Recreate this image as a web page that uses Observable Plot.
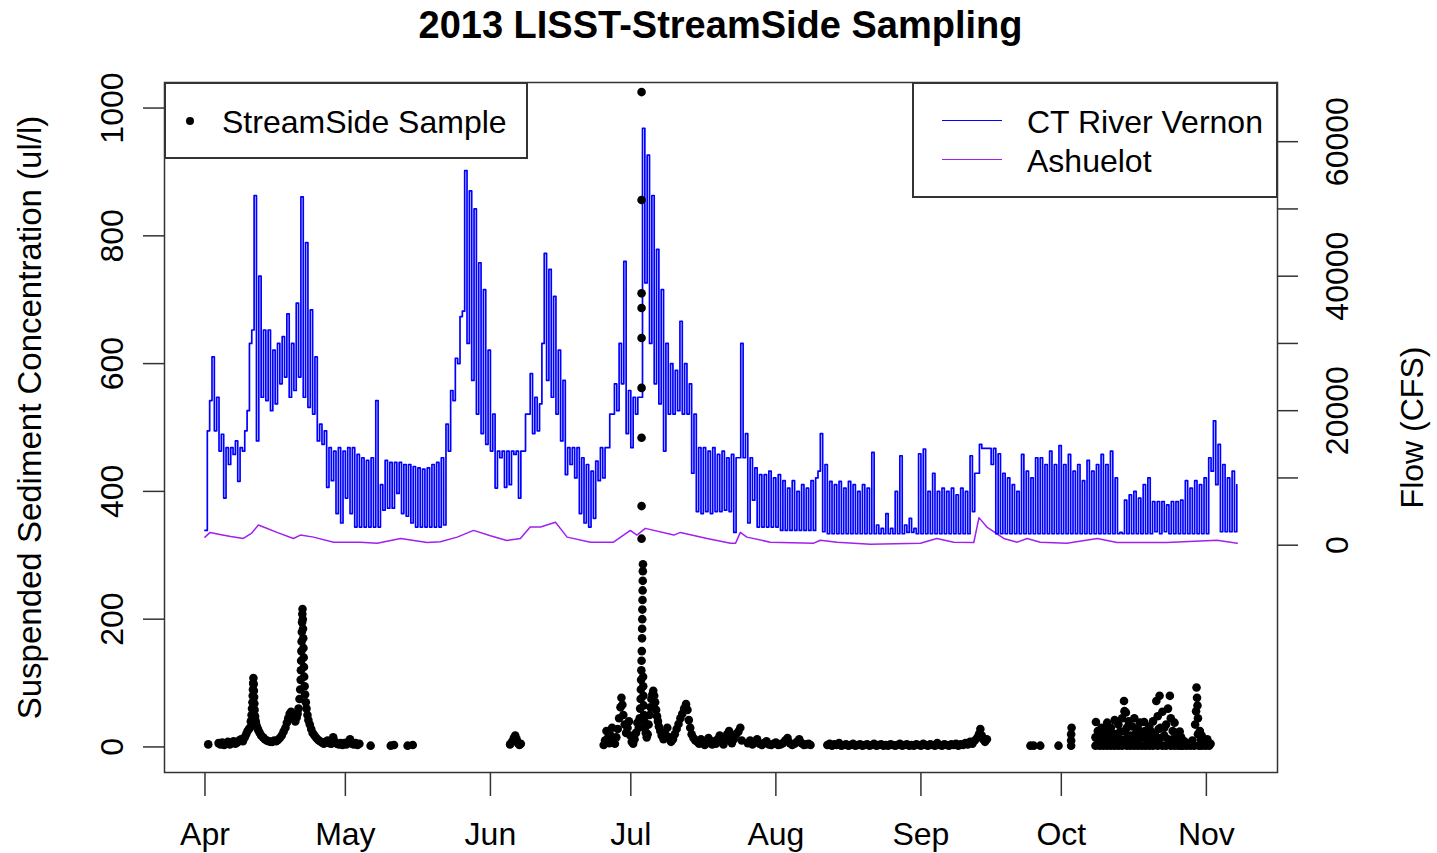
<!DOCTYPE html>
<html><head><meta charset="utf-8">
<script src="https://cdn.jsdelivr.net/npm/d3@7"></script>
<script src="https://cdn.jsdelivr.net/npm/@observablehq/plot@0.6"></script>
<style>
html,body{margin:0;padding:0;background:#fff;overflow:hidden;}
body{font-family:"Liberation Sans",Arial,Helvetica,sans-serif;}
#wrap{position:relative;width:1437px;height:853px;}
#title{position:absolute;left:0;top:0;width:1441px;height:50px;text-align:center;font-weight:bold;font-size:38px;line-height:50px;color:#000;}
#chart{position:absolute;left:0;top:50px;width:1437px;height:803px;}
#chart svg{position:absolute;left:0;top:0;}
.lbox{position:absolute;background:#fff;border:2px solid #333;box-sizing:border-box;}
.ltxt{position:absolute;font-size:32px;line-height:32px;color:#000;white-space:nowrap;}
.ldot{position:absolute;width:8px;height:8px;border-radius:50%;background:#000;}
.lline{position:absolute;height:0;border-top:1.5px solid;}
</style></head>
<body>
<div id="wrap">
  <div id="title">2013 LISST-StreamSide Sampling</div>
  <div id="chart"></div>
  <div class="lbox" style="left:164px;top:82px;width:364px;height:77px;"></div>
  <div class="ldot" style="left:186px;top:117px;"></div>
  <div class="ltxt" style="left:222px;top:106px;">StreamSide Sample</div>
  <div class="lbox" style="left:912px;top:82px;width:366px;height:116px;"></div>
  <div class="lline" style="left:942px;top:120px;width:60px;border-color:#0000ff;"></div>
  <div class="ltxt" style="left:1027px;top:106px;">CT River Vernon</div>
  <div class="lline" style="left:942px;top:159px;width:60px;border-color:#a020f0;"></div>
  <div class="ltxt" style="left:1027px;top:145px;">Ashuelot</div>
</div>
<script>
// ---------- data (day offsets from 2013-04-01) ----------
const monthStarts = ["2013-04-01","2013-05-01","2013-06-01","2013-07-01","2013-08-01","2013-09-01","2013-10-01","2013-11-01"];
const monthLabels = ["Apr","May","Jun","Jul","Aug","Sep","Oct","Nov"];
const sedTicks = [0,200,400,600,800,1000];
const flowTicks = [0,10000,20000,30000,40000,50000,60000];
const flowLabelTicks = [0,20000,40000,60000];

// CT River at Vernon: daily high / low flow (cfs), day 0 = Apr 1
const ctHi = [
17000,28000,22000,16500,14500,14500,15500,14500,17000,30000,
52000,40000,32000,32000,29000,30000,31000,34400,30000,36000,
51800,45000,35000,28000,18000,17000,14500,14000,14500,14000,
14500,14500,13500,13000,12600,13000,21500,9000,12600,12300,
12300,12300,12000,12000,11700,11500,11300,11500,12000,12300,
13000,18000,23000,27800,34000,55700,52700,50000,42000,38000,
29000,19500,14000,14000,14000,14000,14000,14000,19500,25500,
22000,21000,43400,41000,37000,29000,24500,14500,14500,14500,
13000,12000,11000,12500,14500,14500,19500,24000,30000,42200,
23000,22000,22000,62000,58000,52000,44000,38000,30000,27000,
26000,33300,27000,24000,19500,14500,14500,14000,14500,13500,
14000,13000,13500,13000,30000,16600,13000,11500,10500,10500,
11000,10000,10500,9600,8500,9600,8000,9000,8500,9600,
10000,16600,12000,9500,9000,9500,8500,9500,9000,8000,
9000,8500,13800,3000,2500,4700,2500,8000,13300,3000,
4000,2500,13600,14300,8000,10700,8000,8500,8000,8500,
7500,8500,8000,13300,10700,15000,14400,14400,14400,13600,
10700,10000,9000,8000,13500,11000,10000,13000,13000,12000,
14000,12000,14800,12000,13500,11000,12000,9600,12600,11000,
12000,13500,12000,14000,10000,1900,6700,7500,8000,7000,
9000,10000,6500,6500,6500,6000,6500,6500,6700,9600,
8500,9600,9000,10000,13000,18500,15000,12000,10000,11000,
9000];
const ctLo = [
2200,21500,17000,14000,7000,12000,13500,9500,14000,20000,
32000,15500,22000,21500,20000,21000,24000,25000,22000,23000,
25000,22000,20500,19500,15500,15000,8600,9600,4700,3300,
7000,4700,2700,2700,2700,2700,2700,2700,5200,5500,
5500,7700,4700,4300,3300,2700,2700,2700,2700,2700,
2700,3000,14000,21500,27000,34800,30000,24500,19500,16600,
15000,14000,8500,13000,8600,9000,13500,7000,14000,19500,
16600,17000,30000,24500,22000,19500,15500,10500,12000,10000,
4700,3300,2700,4000,9600,10000,14500,19500,20000,24000,
16600,14500,19500,22000,39000,30000,24000,21000,14000,19500,
19500,20000,19500,19500,10700,5000,4700,5000,4700,5000,
5000,5200,5000,1900,13000,13000,3300,6700,2700,2700,
2700,2700,2700,2200,2200,2200,2200,2200,2200,2200,
2200,11000,2000,1700,1700,1700,1700,1700,1700,1700,
1700,1700,1700,1700,1700,1700,1700,1700,1700,1700,
1900,1900,1700,1700,1700,1700,1700,1700,1700,1700,
1700,1700,1700,1700,5000,10700,14400,14400,12000,1700,
1700,1700,1700,1700,1700,1700,1700,1700,1700,1700,
1700,1700,1700,1700,1700,1700,1700,1700,1700,1700,
1700,1700,1700,1700,1700,1700,1700,1700,1700,1700,
1700,1700,1700,2000,1700,2000,1700,1700,1700,1700,
1700,1700,1700,1700,1700,11000,9000,2000,2000,2000,
2000];

// Ashuelot River flow (day, cfs)
const ashuelot = [[0,1200],[1.1,1900],[3.2,1600],[5.5,1300],[8.2,1000],[10,1800],[11.4,3000],[12.5,2700],[15.4,1900],[18.9,1000],[20.4,1500],[23.2,1200],[27.5,450],[33.2,450],[36.8,300],[41.8,1000],[47.5,400],[50.3,500],[53.9,1200],[57.4,2200],[61,1400],[64.5,700],[67.4,1000],[69.5,2700],[71.7,2700],[74.9,3400],[77.4,1200],[82.4,450],[87.3,450],[90.9,2200],[92.3,1500],[94.1,2500],[100.2,1500],[101.6,1900],[107.3,1000],[112.3,300],[113.4,300],[114.4,1900],[115.8,1200],[120.8,450],[130.1,300],[131.5,740],[135.1,450],[142.2,150],[152.9,300],[156.4,1000],[160,450],[164.3,400],[165.4,4100],[167.1,2700],[170.7,1000],[173.6,450],[175.7,1000],[178.5,450],[184.2,300],[190.7,1000],[194.9,400],[205.6,400],[216.3,740],[220.6,300]];

// StreamSide LISST samples (day, ul/l)
const sedApr = [[0.7,4],[2.9,6],[3.3,4],[3.7,7],[4.1,3],[4.5,5],[4.9,8],[5.3,4],[5.7,6],[6.1,9],[6.5,5],[6.9,7],[7.3,10],[7.7,12],[8.1,9],[8.5,15],[8.8,20],[9.1,25],[9.4,28],[9.6,30],[9.8,40],[9.95,50],[10.05,60],[10.15,70],[10.2,80],[10.25,90],[10.3,100],[10.35,108],[10.4,98],[10.45,88],[10.5,78],[10.55,68],[10.6,58],[10.7,48],[10.85,40],[11.0,34],[11.2,30],[11.4,26],[11.7,22],[12.0,18],[12.4,15],[12.8,12],[13.2,10],[13.6,9],[14.0,8],[14.4,8],[14.8,10],[15.2,9],[15.6,11],[16.0,14],[16.4,18],[16.8,24],[17.2,30],[17.5,38],[17.8,45],[18.1,52],[18.4,55],[18.7,50],[19.0,44],[19.3,40],[19.6,46],[19.8,52],[20.0,60],[20.2,75],[20.35,90],[20.45,105],[20.5,120],[20.55,135],[20.6,150],[20.65,165],[20.7,180],[20.75,195],[20.8,208],[20.85,216],[20.9,200],[20.95,185],[21.0,170],[21.05,155],[21.1,140],[21.15,125],[21.2,110],[21.3,95],[21.4,82],[21.55,70],[21.7,60],[21.9,50],[22.1,42],[22.4,35],[22.7,28],[23.0,22],[23.4,18],[23.8,14],[24.2,11],[24.6,9],[25.0,7],[25.4,5],[25.8,8],[26.2,10],[26.6,6],[27.0,5],[27.4,15],[27.8,8],[28.2,5],[28.6,4],[29.0,6],[29.4,3],[29.8,6],[30.2,4],[30.6,8],[31.0,12],[31.4,5],[31.8,4],[32.2,6],[32.6,3],[33.0,5],[35.4,2],[39.7,2],[40.4,3],[43.3,2],[44.4,3]];
const sedJun = [[65.2,4],[65.6,8],[66.0,14],[66.3,18],[66.6,12],[66.9,6],[67.2,3],[67.5,5]];
const sedJul = [[85.2,3],[85.5,10],[85.8,25],[86.1,14],[86.4,6],[86.7,18],[87.0,30],[87.3,12],[87.6,5],[87.9,15],[88.2,28],[88.5,45],[88.8,62],[89.0,77],[89.2,66],[89.4,50],[89.7,35],[90.0,22],[90.3,30],[90.6,40],[90.9,18],[91.2,8],[91.5,5],[91.8,12],[92.1,22],[92.4,38],[92.7,30],[92.9,45],[93.0,60],[93.1,75],[93.15,90],[93.2,105],[93.25,120],[93.3,135],[93.35,150],[93.4,170],[93.42,185],[93.45,200],[93.47,215],[93.5,230],[93.52,245],[93.55,260],[93.57,275],[93.6,286],[93.62,110],[93.65,95],[93.7,80],[93.75,65],[93.8,50],[93.9,40],[94.0,30],[94.2,22],[94.4,15],
[93.3,1025],[93.3,856],[93.3,710],[93.3,687],[93.3,640],[93.3,562],[93.3,484],[93.3,377],[93.3,326],
[94.6,20],[94.8,35],[95.0,50],[95.2,62],[95.4,75],[95.6,82],[95.8,88],[96.0,80],[96.2,70],[96.4,58],[96.6,48],[96.8,40],[97.0,32],[97.3,25],[97.6,18],[98.0,12],[98.4,20],[98.8,30],[99.2,15],[99.6,8],[100.0,12],[100.4,20],[100.8,28],[101.2,36],[101.6,45],[102.0,52],[102.4,60],[102.8,67],[103.1,58],[103.4,42],[103.7,30],[104.0,20],[104.4,14],[104.8,10],[105.2,8],[105.6,5],[106.0,12],[106.4,6],[106.8,3],[107.2,8],[107.6,14],[108.0,6],[108.4,4],[108.8,9],[109.2,5],[109.6,12],[110.0,18],[110.4,8],[110.8,4],[111.2,10],[111.6,20],[112.0,25],[112.3,15],[112.6,6],[113.0,12],[113.5,20],[114.0,24],[114.4,30],[114.7,10]];
const sedAug = [[116.0,6],[116.5,10],[117.0,4],[117.5,8],[118.0,12],[118.5,5],[119.0,3],[119.5,6],[120.0,9],[120.5,4],[121.0,3],[121.5,5],[122.0,7],[122.5,3],[123.0,4],[123.5,6],[124.0,10],[124.5,14],[125.0,6],[125.5,3],[126.0,5],[126.5,8],[127.0,12],[127.5,6],[128.0,3],[128.5,4],[129.0,5],[129.4,3],
[133.0,3],[133.5,5],[134.0,2],[134.5,4],[135.0,3],[135.5,6],[136.0,2],[136.5,3],[137.0,4],[137.5,2],[138.0,3],[138.5,5],[139.0,2],[139.5,3],[140.0,4],[140.5,2],[141.0,3],[141.5,4],[142.0,2],[142.5,3],[143.0,5],[143.5,2],[144.0,3],[144.5,4],[145.0,2],[145.5,3],[146.0,2],[146.5,4],[147.0,3],[147.5,2],[148.0,3],[148.5,5],[149.0,2],[149.5,3],[150.0,4],[150.5,2],[151.0,3],[151.5,2],[152.0,4],[152.5,3],[153.0,2],[153.5,5],[154.0,3],[154.5,2],[155.0,4],[155.5,3],[156.0,2],[156.5,6],[157.0,3],[157.5,2],[158.0,4],[158.5,3],[159.0,2],[159.5,4],[160.0,3],[160.5,5],[161.0,2],[161.5,4],[162.0,3],[162.5,6],[163.0,4],[163.5,8],[164.0,5],[164.5,10],[165.0,14],[165.4,20],[165.7,28],[166.0,18],[166.3,12],[166.7,8],[167.1,12]];
const sedOct = [[176.4,2],[177.1,2],[178.5,2],[182.4,2],[185.1,2],[185.1,10],[185.1,20],[185.2,30],
[190.3,2],[190.3,15],[190.4,39],[190.8,5],[190.8,25],[191.2,2],[191.2,20],[191.6,10],[191.6,30],[192.0,2],[192.0,28],[192.4,8],[192.4,18],[192.8,2],[192.8,38],[193.2,15],[193.2,25],[193.6,2],[193.6,30],[194.0,8],[194.0,20],[194.4,2],[194.4,42],[194.8,20],[194.8,10],[195.2,2],[195.2,35],[195.6,12],[195.6,24],[196.0,2],[196.0,45],[196.4,72],[196.5,56],[196.6,25],[196.6,12],[196.8,54],[197.0,2],[197.0,30],[197.4,40],[197.4,15],[197.8,2],[197.8,18],[198.2,32],[198.2,8],[198.6,2],[198.6,45],[199.0,10],[199.0,22],[199.4,2],[199.4,28],[199.8,38],[199.8,14],[200.2,2],[200.2,15],[200.7,39],[200.7,24],[201.0,2],[201.0,25],[201.4,8],[201.4,16],[201.8,2],[201.8,32],[202.2,15],[202.2,24],[202.6,2],[202.6,40],[203.0,20],[203.0,10],[203.3,72],[203.6,2],[203.6,48],[203.8,28],[204.0,80],[204.2,30],[204.2,14],[204.6,2],[204.6,55],[205.0,18],[205.0,30],[205.4,2],[205.4,35],[205.8,60],[205.8,12],[206.2,80],[206.4,2],[206.4,45],[206.8,25],[206.8,12],[207.2,2],[207.2,38],[207.6,12],[207.6,22],[208.0,2],[208.3,24],[208.6,2],[208.6,15],[209.0,2],[209.0,10],[209.4,8],[209.8,2],[210.2,5],[210.6,2],[211.0,10],[211.4,2],[211.6,35],[211.8,56],[211.9,93],[212.0,77],[212.1,65],[212.2,45],[212.2,20],[212.4,2],[212.6,25],[212.8,12],[213.0,2],[213.0,18],[213.4,10],[213.8,2],[214.2,12],[214.6,2],[214.9,5]];

// ---------- build ----------
const T0 = Date.UTC(2013, 3, 1), DAY = 864e5;
const toDate = d => new Date(T0 + d * DAY);
const xDomain = [toDate(-8.65), toDate(229.2)];
const monthDates = monthStarts.map(s => new Date(s + "T00:00:00Z"));

const ctRows = [];
ctHi.forEach((h, i) => {
  ctRows.push({date: toDate(i), flow: ctLo[i]});
  ctRows.push({date: toDate(i + 0.5), flow: h});
});
const ashRows = ashuelot.map(([d, f]) => ({date: toDate(d), flow: f}));
const sedRows = [...sedApr, ...sedJun, ...sedJul, ...sedAug, ...sedOct].map(([d, v]) => ({date: toDate(d), val: v}));

const FONT = "'Liberation Sans', Arial, Helvetica, sans-serif";
const common = {
  width: 1437, height: 803,
  marginLeft: 164, marginRight: 160, marginTop: 32, marginBottom: 81,
};

const flowPlot = Plot.plot({
  ...common,
  style: {fontFamily: FONT, background: "white", overflow: "visible"},
  x: {type: "utc", domain: xDomain},
  y: {domain: [-33800, 68800]},
  marks: [
    Plot.line(ashRows, {x: "date", y: "flow", stroke: "#a020f0", strokeWidth: 1.5}),
    Plot.line(ctRows, {x: "date", y: "flow", stroke: "#0000ff", strokeWidth: 1.7, curve: "step-after"}),
    Plot.axisX({ticks: monthDates, tickSize: 24, tickFormat: () => "", label: null, stroke: "#333", strokeWidth: 1.5}),
    Plot.text(monthDates, {x: d => d, text: (d, i) => monthLabels[i], frameAnchor: "bottom", textAnchor: "middle", dy: 72, fontSize: 32, fill: "#000"}),
    Plot.axisY({anchor: "right", ticks: flowTicks, tickSize: 20, tickFormat: () => "", label: null, stroke: "#333", strokeWidth: 1.5}),
    Plot.text(flowLabelTicks, {y: d => d, text: d => String(d), frameAnchor: "right", textAnchor: "middle", dx: 60, rotate: -90, fontSize: 32, fill: "#000"}),
    Plot.text(["Flow (CFS)"], {frameAnchor: "right", textAnchor: "middle", dx: 135, rotate: -90, fontSize: 32, fill: "#000"})
  ]
});

const sedPlot = Plot.plot({
  ...common,
  style: {fontFamily: FONT, background: "transparent", overflow: "visible"},
  x: {type: "utc", domain: xDomain, axis: null},
  y: {domain: [-40, 1040]},
  marks: [
    Plot.dot(sedRows, {x: "date", y: "val", r: 4.3, fill: "#000", stroke: "none"}),
    Plot.axisY({anchor: "left", ticks: sedTicks, tickSize: 21, tickFormat: () => "", label: null, stroke: "#333", strokeWidth: 1.5}),
    Plot.text(sedTicks, {y: d => d, text: d => String(d), frameAnchor: "left", textAnchor: "middle", dx: -52, rotate: -90, fontSize: 32, fill: "#000"}),
    Plot.text(["Suspended Sediment Concentration (ul/l)"], {frameAnchor: "left", textAnchor: "middle", dx: -134, dy: -10, rotate: -90, fontSize: 33, fill: "#000"}),
    Plot.frame({stroke: "#333", strokeWidth: 1.5})
  ]
});

const chart = document.getElementById("chart");
chart.appendChild(flowPlot);
chart.appendChild(sedPlot);
</script>
</body></html>
